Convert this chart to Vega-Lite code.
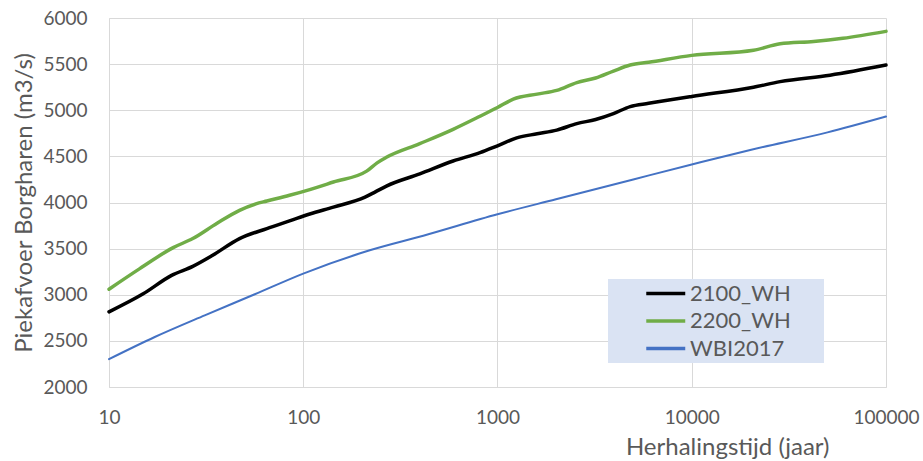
{
  "$schema": "https://vega.github.io/schema/vega-lite/v6.json",
  "width": 777,
  "height": 369,
  "autosize": {"type": "none"},
  "padding": {"left": 109, "top": 18, "right": 37, "bottom": 74},
  "background": "#ffffff",
  "config": {
    "view": {"stroke": null},
    "font": "Lato",
    "axis": {
      "labelFont": "Lato",
      "titleFont": "Lato",
      "labelColor": "#595959",
      "titleColor": "#595959",
      "labelFontSize": 19,
      "titleFontSize": 24,
      "titleFontWeight": "normal",
      "gridColor": "#D9D9D9",
      "gridWidth": 1,
      "domainColor": "#D9D9D9",
      "domainWidth": 1,
      "ticks": false,
      "tickSize": 0
    },
    "legend": {
      "labelFont": "Lato",
      "titleFont": "Lato"
    }
  },
  "data": {
    "values": [
      {"T": 10, "Q": 2815, "serie": "2100_WH"},
      {"T": 15, "Q": 3010, "serie": "2100_WH"},
      {"T": 21, "Q": 3210, "serie": "2100_WH"},
      {"T": 27, "Q": 3308, "serie": "2100_WH"},
      {"T": 34, "Q": 3425, "serie": "2100_WH"},
      {"T": 47, "Q": 3609, "serie": "2100_WH"},
      {"T": 65, "Q": 3717, "serie": "2100_WH"},
      {"T": 85, "Q": 3800, "serie": "2100_WH"},
      {"T": 108, "Q": 3875, "serie": "2100_WH"},
      {"T": 143, "Q": 3950, "serie": "2100_WH"},
      {"T": 208, "Q": 4058, "serie": "2100_WH"},
      {"T": 235, "Q": 4115, "serie": "2100_WH"},
      {"T": 268, "Q": 4178, "serie": "2100_WH"},
      {"T": 398, "Q": 4310, "serie": "2100_WH"},
      {"T": 591, "Q": 4450, "serie": "2100_WH"},
      {"T": 813, "Q": 4540, "serie": "2100_WH"},
      {"T": 1000, "Q": 4615, "serie": "2100_WH"},
      {"T": 1256, "Q": 4700, "serie": "2100_WH"},
      {"T": 1600, "Q": 4745, "serie": "2100_WH"},
      {"T": 2018, "Q": 4785, "serie": "2100_WH"},
      {"T": 2560, "Q": 4855, "serie": "2100_WH"},
      {"T": 3200, "Q": 4900, "serie": "2100_WH"},
      {"T": 3953, "Q": 4964, "serie": "2100_WH"},
      {"T": 4820, "Q": 5040, "serie": "2100_WH"},
      {"T": 6000, "Q": 5075, "serie": "2100_WH"},
      {"T": 10000, "Q": 5150, "serie": "2100_WH"},
      {"T": 20790, "Q": 5250, "serie": "2100_WH"},
      {"T": 28500, "Q": 5310, "serie": "2100_WH"},
      {"T": 51500, "Q": 5380, "serie": "2100_WH"},
      {"T": 100000, "Q": 5490, "serie": "2100_WH"},

      {"T": 10, "Q": 3060, "serie": "2200_WH"},
      {"T": 14.4, "Q": 3283, "serie": "2200_WH"},
      {"T": 21.4, "Q": 3511, "serie": "2200_WH"},
      {"T": 27, "Q": 3609, "serie": "2200_WH"},
      {"T": 36, "Q": 3775, "serie": "2200_WH"},
      {"T": 47, "Q": 3915, "serie": "2200_WH"},
      {"T": 57, "Q": 3985, "serie": "2200_WH"},
      {"T": 65, "Q": 4016, "serie": "2200_WH"},
      {"T": 85, "Q": 4078, "serie": "2200_WH"},
      {"T": 108, "Q": 4140, "serie": "2200_WH"},
      {"T": 143, "Q": 4222, "serie": "2200_WH"},
      {"T": 212, "Q": 4340, "serie": "2200_WH"},
      {"T": 240, "Q": 4430, "serie": "2200_WH"},
      {"T": 268, "Q": 4490, "serie": "2200_WH"},
      {"T": 398, "Q": 4638, "serie": "2200_WH"},
      {"T": 591, "Q": 4793, "serie": "2200_WH"},
      {"T": 813, "Q": 4935, "serie": "2200_WH"},
      {"T": 1000, "Q": 5030, "serie": "2200_WH"},
      {"T": 1206, "Q": 5120, "serie": "2200_WH"},
      {"T": 1600, "Q": 5175, "serie": "2200_WH"},
      {"T": 2018, "Q": 5215, "serie": "2200_WH"},
      {"T": 2560, "Q": 5300, "serie": "2200_WH"},
      {"T": 3200, "Q": 5350, "serie": "2200_WH"},
      {"T": 3953, "Q": 5425, "serie": "2200_WH"},
      {"T": 4820, "Q": 5490, "serie": "2200_WH"},
      {"T": 6000, "Q": 5520, "serie": "2200_WH"},
      {"T": 10000, "Q": 5595, "serie": "2200_WH"},
      {"T": 20790, "Q": 5650, "serie": "2200_WH"},
      {"T": 28500, "Q": 5720, "serie": "2200_WH"},
      {"T": 42400, "Q": 5745, "serie": "2200_WH"},
      {"T": 60000, "Q": 5780, "serie": "2200_WH"},
      {"T": 100000, "Q": 5855, "serie": "2200_WH"},

      {"T": 10, "Q": 2302, "serie": "WBI2017"},
      {"T": 17.2, "Q": 2542, "serie": "WBI2017"},
      {"T": 31.1, "Q": 2777, "serie": "WBI2017"},
      {"T": 56.3, "Q": 3005, "serie": "WBI2017"},
      {"T": 100, "Q": 3229, "serie": "WBI2017"},
      {"T": 220, "Q": 3482, "serie": "WBI2017"},
      {"T": 415, "Q": 3640, "serie": "WBI2017"},
      {"T": 1000, "Q": 3872, "serie": "WBI2017"},
      {"T": 2000, "Q": 4035, "serie": "WBI2017"},
      {"T": 5000, "Q": 4250, "serie": "WBI2017"},
      {"T": 10000, "Q": 4412, "serie": "WBI2017"},
      {"T": 20000, "Q": 4570, "serie": "WBI2017"},
      {"T": 50000, "Q": 4760, "serie": "WBI2017"},
      {"T": 100000, "Q": 4932, "serie": "WBI2017"}
    ]
  },
  "encoding": {
    "x": {
      "field": "T",
      "type": "quantitative",
      "scale": {"type": "log", "domain": [10, 100000], "nice": false},
      "axis": {
        "values": [10, 100, 1000, 10000, 100000],
        "format": "d",
        "labelFlush": false,
        "labelOverlap": false,
        "labelPadding": 21,
        "labelBaseline": "top",
        "title": "Herhalingstijd (jaar)",
        "titleAnchor": "end",
        "titleAlign": "right",
        "titleX": 720,
        "titleY": 67,
        "titleBaseline": "alphabetic"
      }
    },
    "y": {
      "field": "Q",
      "type": "quantitative",
      "scale": {"domain": [2000, 6000], "nice": false, "zero": false},
      "axis": {
        "values": [2000, 2500, 3000, 3500, 4000, 4500, 5000, 5500, 6000],
        "format": "d",
        "labelPadding": 22,
        "labelFlush": false,
        "title": "Piekafvoer Borgharen (m3/s)",
        "titleAngle": -90,
        "titleAlign": "center",
        "titleBaseline": "alphabetic",
        "titleX": -78,
        "titleY": 184.5
      }
    },
    "color": {
      "field": "serie",
      "type": "nominal",
      "scale": {"domain": ["2100_WH", "2200_WH", "WBI2017"], "range": ["#000000", "#70AD47", "#4472C4"]},
      "legend": {
        "title": "\u00a0",
        "titleOrient": "right",
        "titlePadding": 30,
        "titleFontSize": 10,
        "orient": "none",
        "legendX": 499,
        "legendY": 261,
        "fillColor": "#DAE3F3",
        "padding": 3,
        "symbolType": "M-3,0H1",
        "symbolSize": 380,
        "symbolOffset": 53,
        "symbolStrokeWidth": 3.5,
        "labelFontSize": 22,
        "labelColor": "#595959",
        "labelOffset": 3,
        "rowPadding": 4.5
      }
    }
  },
  "layer": [
    {
      "transform": [{"filter": "datum.serie !== 'WBI2017'"}],
      "mark": {"type": "line", "interpolate": "monotone", "strokeWidth": 3.5, "strokeCap": "round", "strokeJoin": "round"}
    },
    {
      "transform": [{"filter": "datum.serie === 'WBI2017'"}],
      "mark": {"type": "line", "interpolate": "monotone", "strokeWidth": 2, "strokeCap": "round", "strokeJoin": "round"}
    }
  ]
}
